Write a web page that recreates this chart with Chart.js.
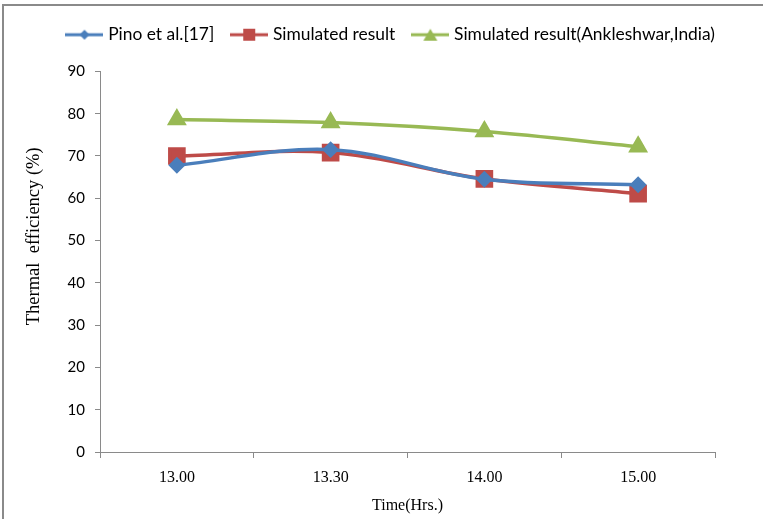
<!DOCTYPE html>
<html lang="en">
<head>
    <meta charset="UTF-8">
    <title>Thermal efficiency</title>
    <script src="https://cdn.jsdelivr.net/npm/chart.js"></script>
    <style>
        body { margin: 0; background: #fff; }
        #wrap { position: relative; width: 763px; height: 519px; }
        #frame { position: absolute; left: 2px; top: 4px; right: 0; bottom: 0;
                 border-left: 2px solid #8a8a8a; border-top: 2px solid #8a8a8a; }
        canvas { position: absolute; left: 0; top: 0; }
    </style>
</head>
<body>
<div id="wrap">
    <div id="frame"></div>
    <canvas id="myChart" width="763" height="519"></canvas>
</div>

<script>
    const times = ['13.00', '13.30', '14.00', '15.00'];
    const pino = [67.8, 71.5, 64.5, 63.2];
    const simulated = [70.0, 70.8, 64.6, 61.1];
    const ankleshwar = [78.6, 77.9, 75.8, 72.2];

    const blue = '#4a7ebb';
    const red = '#be4b48';
    const green = '#98b954';

    // legend icon: a short line with the marker in the middle, like Excel does it
    function legendIcon(color, shape) {
        const c = document.createElement('canvas');
        c.width = 38; c.height = 14;
        const g = c.getContext('2d');
        g.strokeStyle = color;
        g.lineWidth = 3;
        g.beginPath(); g.moveTo(0, 7); g.lineTo(38, 7); g.stroke();
        g.fillStyle = color;
        g.beginPath();
        if (shape === 'diamond') {
            g.moveTo(19, 2); g.lineTo(24, 7); g.lineTo(19, 12); g.lineTo(14, 7);
        } else if (shape === 'square') {
            g.rect(13, 1, 12, 12);
        } else {
            g.moveTo(19, 1); g.lineTo(26, 13); g.lineTo(12, 13);
        }
        g.closePath(); g.fill();
        return c;
    }

    const sans = 'Lato, "Open Sans", sans-serif';
    const serif = '"Liberation Serif", serif';

    // more room under the legend, and push it to the right edge of the plot
    const legendGap = {
        id: 'legendGap',
        beforeInit(chart) {
            const legend = chart.legend;
            const fit = legend.fit;
            legend.fit = function () {
                fit.call(this);
                this.height += 17;
            };
            const draw = legend.draw;
            legend.draw = function () {
                const c = this.ctx;
                c.save();
                c.translate(this.options.labels.padding, -1);
                draw.call(this);
                c.restore();
            };
        }
    };

    const ctx = document.getElementById('myChart').getContext('2d');

    window.myLineChart = new Chart(ctx, {
        type: 'line',
        data: {
            labels: times,
            datasets: [{
                label: 'Pino et al.[17]',
                data: pino,
                borderColor: blue,
                backgroundColor: blue,
                borderWidth: 3.5,
                pointStyle: 'rectRot',
                pointRadius: 6,
                tension: 0.35,
                legendIcon: legendIcon(blue, 'diamond')
            }, {
                label: 'Simulated result',
                data: simulated,
                borderColor: red,
                backgroundColor: red,
                borderWidth: 3.5,
                pointStyle: 'rect',
                pointRadius: 10,
                tension: 0.35,
                legendIcon: legendIcon(red, 'square')
            }, {
                label: 'Simulated result(Ankleshwar,India)',
                data: ankleshwar,
                borderColor: green,
                backgroundColor: green,
                borderWidth: 3.5,
                pointStyle: 'triangle',
                pointRadius: 8,
                tension: 0.35,
                legendIcon: legendIcon(green, 'triangle')
            }]
        },
        plugins: [legendGap],
        options: {
            responsive: false,
            animation: false,
            layout: { padding: { left: 22, right: 48, top: 7, bottom: 0 } },
            plugins: {
                tooltip: { enabled: false },
                legend: {
                    position: 'top',
                    align: 'end',
                    labels: {
                        usePointStyle: true,
                        pointStyleWidth: 30,
                        boxHeight: 14,
                        padding: 20,
                        color: '#000',
                        font: { family: sans, size: 17.4 },
                        generateLabels: chart => chart.data.datasets.map((ds, i) => ({
                            text: ds.label,
                            pointStyle: ds.legendIcon,
                            fillStyle: ds.borderColor,
                            strokeStyle: ds.borderColor,
                            lineWidth: 0,
                            hidden: false,
                            datasetIndex: i,
                            fontColor: '#000'
                        }))
                    }
                }
            },
            scales: {
                x: {
                    offset: true,
                    grid: { offset: true, drawOnChartArea: false, drawTicks: true, tickLength: 6, color: '#8a8a8a' },
                    border: { color: '#8a8a8a', width: 1 },
                    ticks: { color: '#000', padding: 10, font: { family: serif, size: 16 } },
                    title: { display: true, text: 'Time(Hrs.)', color: '#000', padding: { top: 0 },
                             font: { family: serif, size: 16 } },
                    afterFit: s => { s.height = 67; }
                },
                y: {
                    min: 0,
                    max: 90,
                    ticks: { stepSize: 10, color: '#000', padding: 10,
                             font: { family: sans, size: 15 } },
                    grid: { drawOnChartArea: false, drawTicks: true, tickLength: 5, color: '#8a8a8a' },
                    border: { color: '#8a8a8a', width: 1 },
                    // leading spaces lift the title above the middle, as in the original
                    title: { display: true, text: '\u00a0'.repeat(11) + 'Thermal  efficiency (%)', color: '#000', padding: 1,
                             font: { family: serif, size: 18.5 } },
                    afterFit: s => { s.width = 78; }
                }
            }
        }
    });
</script>
</body>
</html>
